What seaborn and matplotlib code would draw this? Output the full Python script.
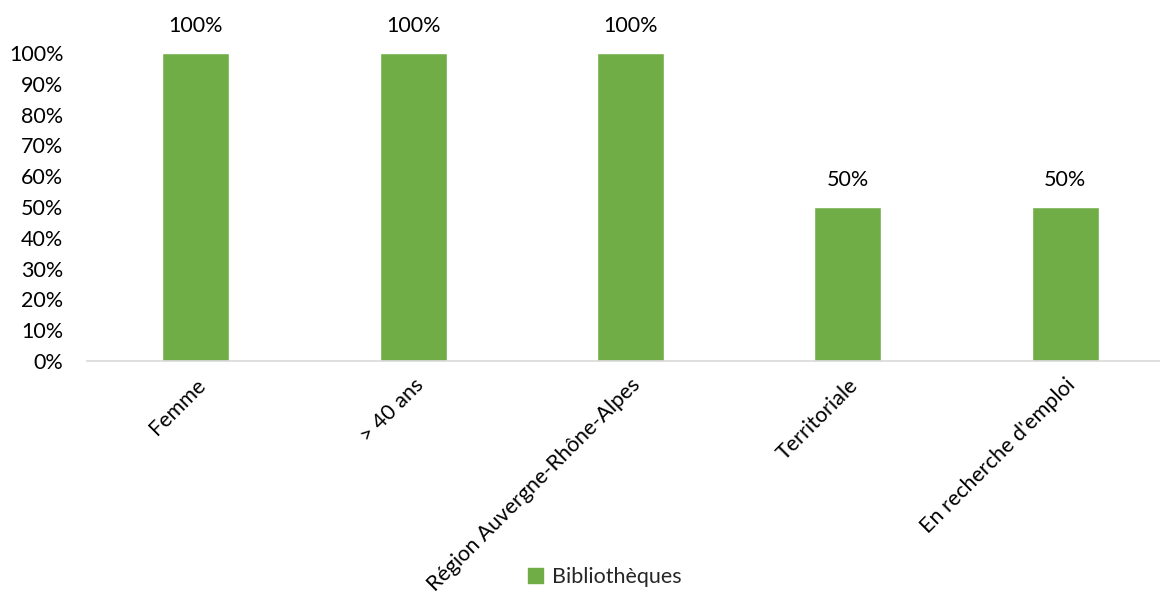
import numpy as np
import pandas as pd
import matplotlib
matplotlib.use("Agg")
import matplotlib.pyplot as plt
import seaborn as sns
from matplotlib.patches import Patch
from matplotlib.ticker import PercentFormatter

categories = ["Femme", "> 40 ans", "Région Auvergne-Rhône-Alpes", "Territoriale", "En recherche d'emploi"]
values = [1.0, 1.0, 1.0, 0.5, 0.5]
series_name = "Bibliothèques"

green = "#70AD47"
fs = 15.5

sns.set_style("white")
plt.rcParams["font.family"] = ["Lato", "DejaVu Sans"]

df = pd.DataFrame({"categorie": categories, "valeur": values})

fig = plt.figure(figsize=(11.6, 5.99), dpi=100)
ax = fig.add_axes([87 / 1160, 238 / 599, 1087 / 1160, 308 / 599])

sns.barplot(data=df, x="categorie", y="valeur", color=green, width=0.308,
            saturation=1, ax=ax)

ax.set_ylim(0, 1)
ax.set_xlim(-0.5, 4.5)
ax.set_yticks(np.arange(0, 1.01, 0.1))
ax.yaxis.set_major_formatter(PercentFormatter(1.0, decimals=0))
ax.tick_params(axis="y", length=0, labelsize=fs, pad=17, colors="black")
ax.tick_params(axis="x", length=0, labelsize=fs, pad=10, colors="black")
for lbl in ax.get_xticklabels():
    lbl.set_rotation(45)
    lbl.set_ha("right")
    lbl.set_rotation_mode("anchor")

for s in ["top", "right", "left"]:
    ax.spines[s].set_visible(False)
ax.spines["bottom"].set_color("#d9d9d9")
ax.spines["bottom"].set_linewidth(1.2)
ax.set_xlabel("")
ax.set_ylabel("")

for i, v in enumerate(values):
    ax.text(i, v + 0.055, f"{v:.0%}", ha="center", va="bottom",
            fontsize=fs, color="black", clip_on=False)

fig.legend(handles=[Patch(color=green, label=series_name)], loc="center",
           bbox_to_anchor=(605 / 1160, 1 - 577 / 599), frameon=False,
           fontsize=fs, handlelength=0.7, handleheight=0.7, handletextpad=0.4)

fig.savefig("out.png", dpi=100)
